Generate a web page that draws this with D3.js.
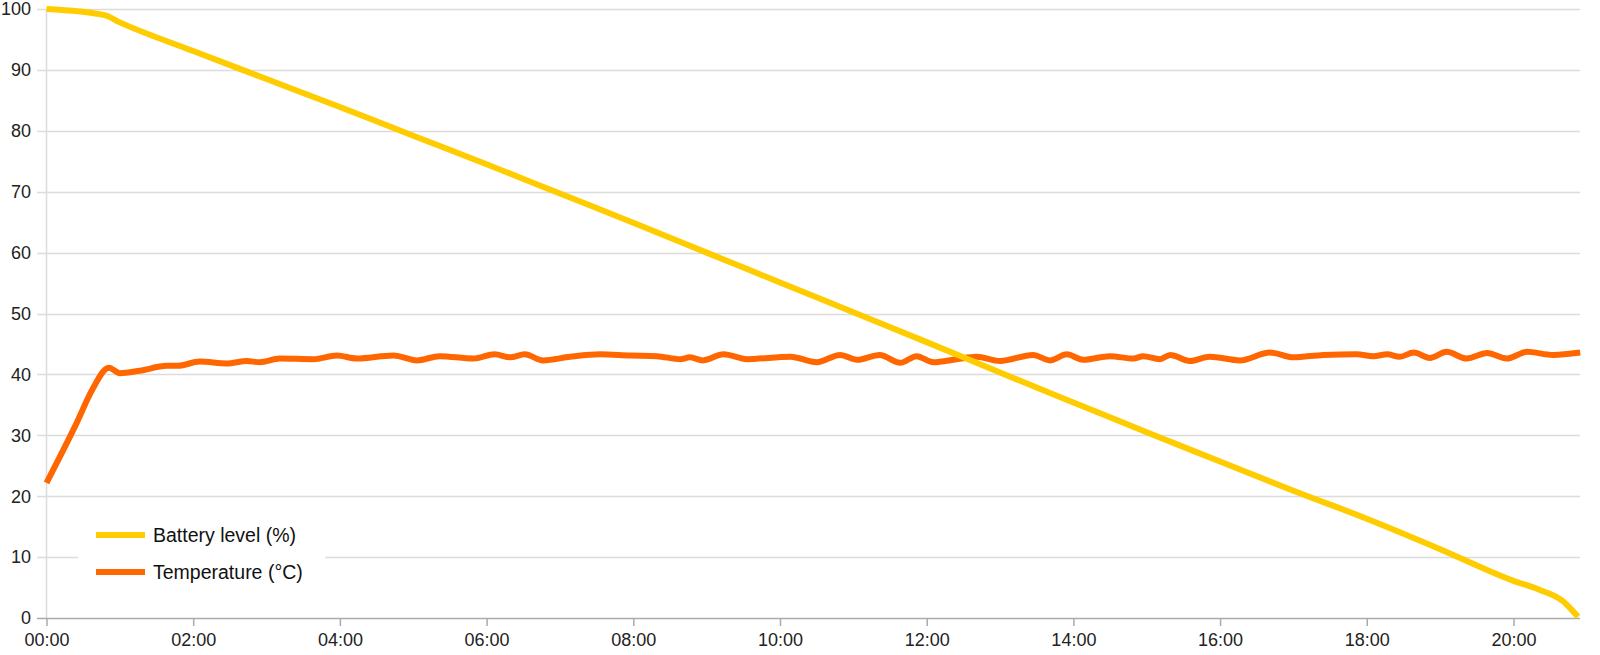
<!DOCTYPE html>
<html>
<head>
<meta charset="utf-8">
<script src="https://cdn.jsdelivr.net/npm/d3@7"></script>
<style>
  html, body { margin: 0; padding: 0; background: #fff; }
  svg { display: block; font-family: "Liberation Sans", Arial, sans-serif; }
</style>
</head>
<body>
<svg id="chart" width="1600" height="655"></svg>
<script>
// ---- data (hours since start, values) ----
const batteryHours = [0, 0.79, 1.0, 2, 3, 4, 5, 6, 7, 8, 9, 10, 11, 12, 13, 14, 15, 16, 17, 18, 19, 20, 20.36, 20.68, 20.82, 20.88];
const batteryLevel = [100, 99.0, 97.8, 93.1, 88.5, 83.9, 79.2, 74.5, 69.7, 64.9, 60.0, 55.1, 50.2, 45.3, 40.3, 35.4, 30.5, 25.7, 20.9, 16.3, 11.3, 6.1, 4.6, 2.7, 1.0, 0.2];

const tempHours = [0, 0.41, 0.62, 0.85, 1.0, 1.27, 1.64, 1.78, 2.09, 2.46, 2.73, 2.91, 3.18, 3.64, 3.96, 4.23, 4.73, 5.05, 5.36, 5.82, 6.11, 6.32, 6.52, 6.77, 7.14, 7.55, 7.96, 8.32, 8.64, 8.77, 8.95, 9.23, 9.55, 10.14, 10.5, 10.82, 11.05, 11.36, 11.64, 11.86, 12.09, 12.41, 12.68, 13.0, 13.45, 13.68, 13.91, 14.13, 14.5, 14.82, 14.95, 15.18, 15.32, 15.59, 15.86, 16.27, 16.68, 17.0, 17.41, 17.86, 18.09, 18.28, 18.45, 18.64, 18.86, 19.09, 19.36, 19.64, 19.91, 20.18, 20.54, 20.91];
const temperature = [22.2, 32, 37.4, 41.1, 40.2, 40.6, 41.4, 41.4, 42.1, 41.8, 42.2, 42.0, 42.6, 42.5, 43.1, 42.6, 43.1, 42.3, 43.0, 42.6, 43.3, 42.8, 43.3, 42.3, 42.9, 43.3, 43.1, 43.0, 42.5, 42.8, 42.3, 43.3, 42.5, 42.9, 42.0, 43.2, 42.4, 43.2, 41.9, 43.0, 42.0, 42.5, 42.9, 42.2, 43.2, 42.3, 43.3, 42.4, 43.0, 42.6, 43.0, 42.5, 43.2, 42.2, 42.9, 42.3, 43.6, 42.8, 43.2, 43.3, 43.0, 43.3, 42.9, 43.6, 42.7, 43.7, 42.6, 43.5, 42.6, 43.7, 43.2, 43.6];

const xTickHours = [0, 2, 4, 6, 8, 10, 12, 14, 16, 18, 20];
const yTicks = [0, 10, 20, 30, 40, 50, 60, 70, 80, 90, 100];
const seriesNames = ["Battery level (%)", "Temperature (°C)"];
const seriesColors = ["#ffcc00", "#ff6600"];
const xMaxHours = 20.907;

// ---- layout ----
const svg = d3.select("#chart");
const plotLeft = 46.5, plotRight = 1580, plotTop = 9, plotBottom = 618;

const x = d3.scaleLinear().domain([0, xMaxHours]).range([plotLeft, plotRight]);
const y = d3.scaleLinear().domain([0, 100]).range([plotBottom, plotTop]);

svg.append("rect").attr("width", 1600).attr("height", 655).attr("fill", "#fff");

// gridlines
svg.append("g").selectAll("line").data(yTicks.filter(d => d > 0)).join("line")
  .attr("x1", 37).attr("x2", plotRight)
  .attr("y1", d => Math.round(y(d)) + 0.5).attr("y2", d => Math.round(y(d)) + 0.5)
  .attr("stroke", "#dcdcdc").attr("stroke-width", 1.5);

// y axis line
svg.append("line").attr("x1", 46.5).attr("x2", 46.5).attr("y1", plotTop).attr("y2", plotBottom)
  .attr("stroke", "#dcdcdc").attr("stroke-width", 1.5);

// y labels
svg.append("g").selectAll("text").data(yTicks).join("text")
  .attr("x", 31).attr("y", d => y(d)).attr("dy", "0.35em")
  .attr("text-anchor", "end").attr("font-size", 18).attr("fill", "#222")
  .text(d => d);

// x axis
const xAxis = d3.axisBottom(x).tickValues(xTickHours)
  .tickFormat(d => String(d).padStart(2, "0") + ":00")
  .tickSizeInner(8).tickSizeOuter(0).tickPadding(7);
const gx = svg.append("g").attr("transform", `translate(0,${plotBottom})`).call(xAxis);
gx.select(".domain").attr("stroke", "#aaa").attr("stroke-width", 1.5)
  .attr("d", `M37,0.5H${plotRight}`);
gx.selectAll(".tick line").attr("stroke", "#aaa").attr("stroke-width", 1.5);
gx.selectAll(".tick text").attr("font-size", 18).attr("fill", "#222")
  .attr("font-family", "Liberation Sans, Arial, sans-serif");

// legend background
svg.append("rect").attr("x", 78).attr("y", 510).attr("width", 247).attr("height", 80).attr("fill", "#fff");

// lines
const line = d3.line().x(d => x(d[0])).y(d => y(d[1])).curve(d3.curveMonotoneX);
const tempData = tempHours.map((h, i) => [h, temperature[i]]);
const battData = batteryHours.map((h, i) => [h, batteryLevel[i]]);

svg.append("path").datum(tempData).attr("d", line)
  .attr("fill", "none").attr("stroke", seriesColors[1]).attr("stroke-width", 6)
  .attr("stroke-linejoin", "round").attr("stroke-linecap", "butt");
svg.append("path").datum(battData).attr("d", line)
  .attr("fill", "none").attr("stroke", seriesColors[0]).attr("stroke-width", 6)
  .attr("stroke-linejoin", "round").attr("stroke-linecap", "butt");

// legend
const legendY = [535, 572];
const lg = svg.append("g");
seriesNames.forEach((name, i) => {
  lg.append("line").attr("x1", 96).attr("x2", 145).attr("y1", legendY[i]).attr("y2", legendY[i])
    .attr("stroke", seriesColors[i]).attr("stroke-width", 6);
  lg.append("text").attr("x", 153).attr("y", legendY[i]).attr("dy", "0.35em")
    .attr("font-size", 19.5).attr("fill", "#111").text(name);
});
</script>
</body>
</html>
